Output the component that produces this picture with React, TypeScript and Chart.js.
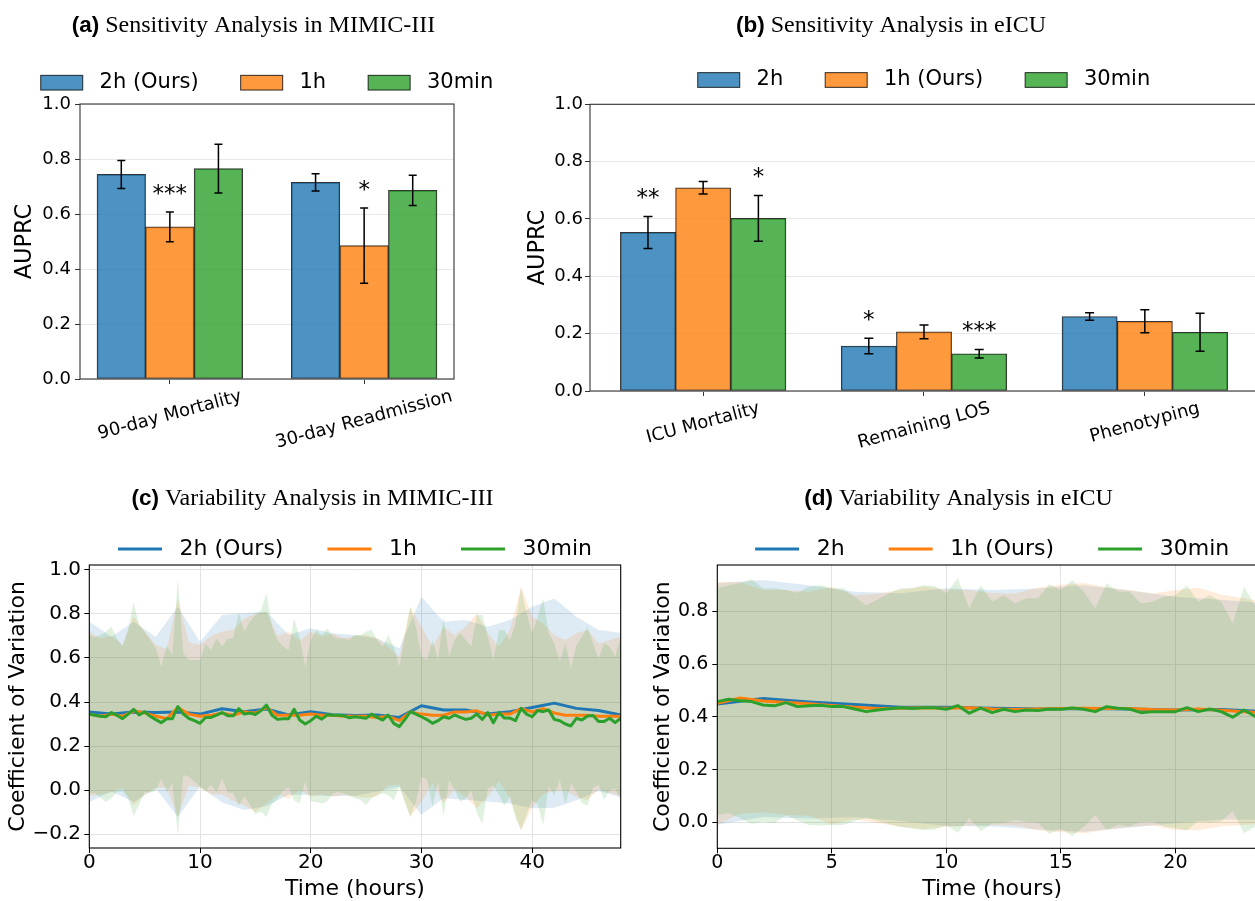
import React, { useEffect, useRef } from 'react';
import { Chart, registerables } from 'chart.js';

Chart.register(...registerables);

const SANS = '"DejaVu Sans", sans-serif';
const BLUE = '#1f77b4';
const ORANGE = '#ff7f0e';
const GREEN = '#2ca02c';

// ---------------- Panel (a) ----------------
const A_CATEGORIES = ['90-day Mortality', '30-day Readmission'];
const A_LABELS = ['2h (Ours)', '1h', '30min'];
const A_2H = [0.744, 0.715];
const A_2H_ERR = [0.051, 0.031];
const A_1H = [0.553, 0.485];
const A_1H_ERR = [0.054, 0.137];
const A_30 = [0.765, 0.686];
const A_30_ERR = [0.089, 0.055];
const A_SIG_2H = ['', ''];
const A_SIG_1H = ['***', '*'];
const A_SIG_30 = ['', ''];
const A_YTICKS = [0, 0.2, 0.4, 0.6, 0.8, 1.0];

// ---------------- Panel (b) ----------------
const B_CATEGORIES = ['ICU Mortality', 'Remaining LOS', 'Phenotyping'];
const B_LABELS = ['2h', '1h (Ours)', '30min'];
const B_2H = [0.553, 0.157, 0.26];
const B_2H_ERR = [0.056, 0.027, 0.013];
const B_1H = [0.709, 0.206, 0.243];
const B_1H_ERR = [0.022, 0.024, 0.04];
const B_30 = [0.602, 0.13, 0.205];
const B_30_ERR = [0.08, 0.015, 0.066];
const B_SIG_2H = ['**', '*', ''];
const B_SIG_1H = ['', '', ''];
const B_SIG_30 = ['*', '***', ''];
const B_YTICKS = [0, 0.2, 0.4, 0.6, 0.8, 1.0];

// ---------------- Panel (c) ----------------
const C_LABELS = ['2h (Ours)', '1h', '30min'];
const C_XTICKS = [0, 10, 20, 30, 40];
const C_YTICKS = [-0.2, 0, 0.2, 0.4, 0.6, 0.8, 1.0];
const C_MEAN_2H = [0.355, 0.345, 0.355, 0.352, 0.355, 0.345, 0.369, 0.356, 0.368, 0.341, 0.356, 0.342, 0.339,
  0.341, 0.33, 0.383, 0.364, 0.364, 0.345, 0.356, 0.375, 0.395, 0.371, 0.361, 0.341];
const C_STD_2H = [0.41, 0.352, 0.41, 0.345, 0.478, 0.329, 0.426, 0.447, 0.442, 0.363, 0.379, 0.37, 0.365,
  0.348, 0.314, 0.495, 0.401, 0.409, 0.397, 0.417, 0.458, 0.476, 0.417, 0.366, 0.374];
const C_MEAN_1H = [0.345, 0.335, 0.345, 0.335, 0.36, 0.35, 0.335, 0.325, 0.375, 0.345,
  0.335, 0.34, 0.35, 0.34, 0.355, 0.35, 0.375, 0.34, 0.34, 0.34,
  0.345, 0.34, 0.34, 0.335, 0.335, 0.335, 0.33, 0.335, 0.315, 0.355,
  0.345, 0.34, 0.34, 0.355, 0.355, 0.36, 0.34, 0.345, 0.345, 0.37,
  0.355, 0.37, 0.35, 0.34, 0.34, 0.34, 0.335, 0.335, 0.335];
const C_STD_1H = [0.375, 0.355, 0.355, 0.325, 0.43, 0.37, 0.325, 0.315, 0.495, 0.325,
  0.325, 0.36, 0.37, 0.39, 0.425, 0.45, 0.435, 0.36, 0.38, 0.34,
  0.375, 0.36, 0.37, 0.355, 0.365, 0.37, 0.36, 0.315, 0.29, 0.478,
  0.397, 0.311, 0.4, 0.35, 0.387, 0.443, 0.372, 0.306, 0.382, 0.554,
  0.433, 0.387, 0.354, 0.342, 0.372, 0.387, 0.332, 0.347, 0.362];
const C_MEAN_30 = [0.345, 0.34, 0.335, 0.333, 0.352, 0.34, 0.324, 0.345, 0.367, 0.341,
  0.356, 0.335, 0.32, 0.306, 0.324, 0.324, 0.379, 0.345, 0.325, 0.315,
  0.303, 0.33, 0.33, 0.34, 0.352, 0.338, 0.338, 0.37, 0.345, 0.35,
  0.343, 0.36, 0.386, 0.34, 0.321, 0.324, 0.324, 0.367, 0.318, 0.3,
  0.315, 0.336, 0.322, 0.342, 0.34, 0.34, 0.337, 0.328, 0.333,
  0.33, 0.326, 0.345, 0.33, 0.318, 0.341, 0.303, 0.288, 0.32, 0.356,
  0.345, 0.333, 0.32, 0.303, 0.315, 0.333, 0.326, 0.341, 0.33, 0.321,
  0.326, 0.345, 0.321, 0.352, 0.306, 0.352, 0.327, 0.327, 0.315, 0.371,
  0.345, 0.333, 0.361, 0.356, 0.364, 0.321, 0.315, 0.3, 0.291, 0.326,
  0.318, 0.336, 0.339, 0.311, 0.311, 0.326, 0.306, 0.326];
const C_STD_30 = [0.36, 0.354, 0.37, 0.387, 0.39, 0.349, 0.328, 0.382, 0.485, 0.409,
  0.364, 0.347, 0.324, 0.255, 0.335, 0.29, 0.583, 0.276, 0.266, 0.276,
  0.288, 0.337, 0.306, 0.349, 0.3, 0.351, 0.351, 0.44, 0.375, 0.415,
  0.452, 0.458, 0.508, 0.402, 0.361, 0.328, 0.312, 0.413, 0.379, 0.261,
  0.367, 0.391, 0.383, 0.393, 0.357, 0.349, 0.352, 0.354, 0.372,
  0.375, 0.394, 0.382, 0.352, 0.334, 0.364, 0.349, 0.273, 0.377, 0.477,
  0.397, 0.273, 0.271, 0.379, 0.276, 0.455, 0.28, 0.341, 0.382, 0.361,
  0.326, 0.45, 0.474, 0.345, 0.285, 0.375, 0.4, 0.355, 0.443, 0.553,
  0.458, 0.379, 0.427, 0.515, 0.348, 0.346, 0.268, 0.367, 0.262, 0.333,
  0.379, 0.406, 0.328, 0.287, 0.356, 0.326, 0.3, 0.371];

// ---------------- Panel (d) ----------------
const D_LABELS = ['2h', '1h (Ours)', '30min'];
const D_XTICKS = [0, 5, 10, 15, 20];
const D_YTICKS = [0, 0.2, 0.4, 0.6, 0.8];
const D_MEAN_2H = [0.449, 0.47, 0.457, 0.447, 0.437, 0.437, 0.433, 0.43, 0.432, 0.43, 0.426, 0.428, 0.42];
const D_STD_2H = [0.458, 0.45, 0.443, 0.428, 0.432, 0.451, 0.449, 0.457, 0.468, 0.45, 0.43, 0.417, 0.41];
const D_MEAN_1H = [0.452, 0.472, 0.46, 0.455, 0.45, 0.443, 0.437, 0.432, 0.433, 0.435, 0.433, 0.435, 0.43,
  0.428, 0.43, 0.432, 0.433, 0.432, 0.432, 0.428, 0.426, 0.43, 0.425, 0.42, 0.415];
const D_STD_1H = [0.46, 0.44, 0.422, 0.427, 0.425, 0.45, 0.425, 0.435, 0.45, 0.46, 0.45, 0.447, 0.44,
  0.44, 0.46, 0.47, 0.475, 0.46, 0.45, 0.44, 0.455, 0.46, 0.44, 0.43, 0.42];
const D_MEAN_30 = [0.458, 0.467, 0.461, 0.458, 0.445, 0.442, 0.454, 0.439, 0.442, 0.444,
  0.439, 0.439, 0.43, 0.42, 0.426, 0.431, 0.435, 0.432, 0.435, 0.435,
  0.429, 0.443, 0.414, 0.433, 0.416, 0.429, 0.42, 0.426, 0.424, 0.43,
  0.429, 0.434, 0.429, 0.42, 0.439, 0.433, 0.43, 0.416, 0.42, 0.42,
  0.42, 0.435, 0.42, 0.43, 0.42, 0.399, 0.426, 0.401, 0.41];
const D_STD_30 = [0.43, 0.433, 0.446, 0.464, 0.443, 0.446, 0.428, 0.432, 0.452, 0.456,
  0.449, 0.449, 0.425, 0.404, 0.42, 0.438, 0.453, 0.456, 0.465, 0.462,
  0.44, 0.483, 0.398, 0.467, 0.421, 0.433, 0.411, 0.424, 0.426, 0.474,
  0.453, 0.486, 0.446, 0.392, 0.468, 0.442, 0.445, 0.415, 0.417, 0.436,
  0.442, 0.465, 0.417, 0.432, 0.417, 0.356, 0.468, 0.417, 0.41];

// ---------------- helpers ----------------
const rgba = (hex: string, a: number) => {
  const n = parseInt(hex.slice(1), 16);
  return `rgba(${n >> 16},${(n >> 8) & 255},${n & 255},${a})`;
};
const COLORS = [BLUE, ORANGE, GREEN];
const BAR_OFFSETS = [-0.25, 0, 0.25];

const titlePlugin = (bold: string, rest: string, cx: number, baseline: number) => ({
  id: 'panelTitle',
  afterDraw(chart: any) {
    const ctx = chart.ctx;
    ctx.save();
    const fb = 'bold 22.5px "Liberation Sans", Arial, sans-serif';
    const fr = '24px "Liberation Serif", "Times New Roman", serif';
    ctx.font = fb;
    const w1 = ctx.measureText(bold).width;
    ctx.font = fr;
    const w2 = ctx.measureText(rest).width;
    const x = cx - (w1 + w2) / 2;
    ctx.fillStyle = 'black';
    ctx.textAlign = 'left';
    ctx.textBaseline = 'alphabetic';
    ctx.font = fb;
    ctx.fillText(bold, x, baseline);
    ctx.font = fr;
    ctx.fillText(rest, x + w1, baseline);
    ctx.restore();
  },
});

const legendPlugin = (labels: string[], fs: number, cy: number, kind: 'patch' | 'line') => ({
  id: 'mplLegend',
  afterDraw(chart: any) {
    const ctx = chart.ctx;
    const ca = chart.chartArea;
    const cx = (ca.left + ca.right) / 2;
    ctx.save();
    ctx.font = `${fs}px ${SANS}`;
    const hl = 2 * fs, hp = 0.8 * fs, cs = 2 * fs;
    const widths = labels.map((l) => ctx.measureText(l).width);
    const total = widths.reduce((a, b) => a + b, 0) + labels.length * (hl + hp) + (labels.length - 1) * cs;
    let x = cx - total / 2;
    labels.forEach((lab, i) => {
      if (kind === 'patch') {
        const h = 0.7 * fs;
        ctx.fillStyle = rgba(COLORS[i], 0.8);
        ctx.fillRect(x, cy - h / 2, hl, h);
        ctx.strokeStyle = 'rgba(0,0,0,0.8)';
        ctx.lineWidth = 1;
        ctx.strokeRect(x, cy - h / 2, hl, h);
      } else {
        ctx.strokeStyle = COLORS[i];
        ctx.lineWidth = 3;
        ctx.beginPath();
        ctx.moveTo(x, cy);
        ctx.lineTo(x + hl, cy);
        ctx.stroke();
      }
      ctx.fillStyle = 'black';
      ctx.textAlign = 'left';
      ctx.textBaseline = 'middle';
      ctx.fillText(lab, x + hl + hp, cy);
      x += hl + hp + widths[i] + cs;
    });
    ctx.restore();
  },
});

const boxPlugin = (color: string) => ({
  id: 'axesBox',
  afterDatasetsDraw(chart: any) {
    const { ctx, chartArea: ca } = chart;
    ctx.save();
    ctx.strokeStyle = color;
    ctx.lineWidth = 1.1;
    ctx.strokeRect(ca.left, ca.top, ca.right - ca.left, ca.bottom - ca.top);
    ctx.restore();
  },
});

const errorBarPlugin = (errs: number[][], sigs: string[][], cap: number) => ({
  id: 'errorBars',
  afterDatasetsDraw(chart: any) {
    const ctx = chart.ctx;
    const ys = chart.scales.y;
    ctx.save();
    chart.data.datasets.forEach((ds: any, di: number) => {
      const meta = chart.getDatasetMeta(di);
      meta.data.forEach((bar: any, i: number) => {
        const v = ds.data[i].y;
        const e = errs[di][i];
        const x = bar.x;
        const yt = ys.getPixelForValue(v + e);
        const yb = ys.getPixelForValue(v - e);
        ctx.strokeStyle = 'black';
        ctx.lineWidth = 1.5;
        ctx.beginPath();
        ctx.moveTo(x, yt); ctx.lineTo(x, yb);
        ctx.moveTo(x - cap, yt); ctx.lineTo(x + cap, yt);
        ctx.moveTo(x - cap, yb); ctx.lineTo(x + cap, yb);
        ctx.stroke();
        const s = sigs[di][i];
        if (s) {
          ctx.font = `23px ${SANS}`;
          ctx.fillStyle = 'black';
          ctx.textAlign = 'center';
          ctx.textBaseline = 'alphabetic';
          const m = ctx.measureText(s);
          const bottom = yt - 17;
          ctx.fillText(s, x, bottom - m.actualBoundingBoxDescent);
        }
      });
    });
    ctx.restore();
  },
});

const categoryLabelPlugin = (labels: string[], fs: number, pad: number) => ({
  id: 'catLabels',
  afterDraw(chart: any) {
    const ctx = chart.ctx;
    const xs = chart.scales.x;
    const base = chart.chartArea.bottom + 5 + pad;
    const ang = (15 * Math.PI) / 180;
    ctx.save();
    ctx.font = `${fs}px ${SANS}`;
    ctx.fillStyle = 'black';
    ctx.textAlign = 'center';
    ctx.textBaseline = 'middle';
    labels.forEach((lab, i) => {
      const w = ctx.measureText(lab).width;
      const cy = base + (w * Math.sin(ang) + fs * Math.cos(ang)) / 2;
      const cx = xs.getPixelForValue(i);
      ctx.save();
      ctx.translate(cx, cy);
      ctx.rotate(-ang);
      ctx.fillText(lab, 0, 0);
      ctx.restore();
    });
    ctx.restore();
  },
});

type BarSpec = {
  categories: string[];
  labels: string[];
  values: number[][];
  errs: number[][];
  sigs: string[][];
  yticks: number[];
  xMin: number; xMax: number;
  padTop: number; padRight: number;
  yWidth: number; xHeight: number;
  tickPad: number; yTitlePad: number;
  title: [string, string, number, number];
  legendCy: number; cap: number;
};

const buildBar = (p: BarSpec) => () => ({
  type: 'bar',
  data: {
    datasets: p.values.map((vals, k) => ({
      label: p.labels[k],
      data: vals.map((v, i) => ({ x: i + BAR_OFFSETS[k], y: v })),
      backgroundColor: rgba(COLORS[k], 0.8),
      borderColor: 'rgba(0,0,0,0.8)',
      borderWidth: 1,
      borderSkipped: false,
      grouped: false,
      categoryPercentage: 1,
      barPercentage: 1,
    })),
  },
  options: {
    responsive: false,
    animation: false,
    events: [],
    layout: { padding: { top: p.padTop, left: 0, right: p.padRight, bottom: 0 } },
    plugins: { legend: { display: false }, tooltip: { enabled: false }, title: { display: false } },
    scales: {
      x: {
        type: 'linear', min: p.xMin, max: p.xMax, offset: false,
        afterBuildTicks: (s: any) => { s.ticks = p.categories.map((_, i) => ({ value: i })); },
        afterFit: (s: any) => { s.height = p.xHeight; },
        ticks: { display: false },
        grid: { offset: false, drawOnChartArea: false, drawTicks: true, tickLength: 5, tickColor: '#333', tickWidth: 1 },
        border: { display: false },
      },
      y: {
        type: 'linear', min: 0, max: 1,
        afterBuildTicks: (s: any) => { s.ticks = p.yticks.map((v) => ({ value: v })); },
        afterFit: (s: any) => { s.width = p.yWidth; },
        ticks: { font: { family: SANS, size: 18, lineHeight: 1 }, color: 'black', padding: p.tickPad,
          callback: (v: number) => v.toFixed(1) },
        grid: { color: '#e8e8e8', lineWidth: 1, tickColor: '#333', tickLength: 5, tickWidth: 1 },
        border: { display: false },
        title: { display: true, text: 'AUPRC', color: 'black', font: { family: SANS, size: 22.5 },
          padding: { top: p.yTitlePad, bottom: 0 } },
      },
    },
  },
  plugins: [
    boxPlugin('#333'),
    errorBarPlugin(p.errs, p.sigs, p.cap),
    categoryLabelPlugin(p.categories, 18, 3.5),
    legendPlugin(p.labels, 21, p.legendCy, 'patch'),
    titlePlugin(p.title[0], p.title[1], p.title[2], p.title[3]),
  ],
});

type LineSpec = {
  labels: string[];
  means: number[][];
  stds: number[][];
  steps: number[];
  xMax: number; yMin: number; yMax: number;
  xticks: number[]; yticks: number[];
  padRight: number; yWidth: number; xHeight: number;
  tickFont: number; tickPad: number; yTitlePad: number; xTitlePad: number;
  title: [string, string, number, number];
};

const fmtSigned = (v: number) => (v < 0 ? '\u2212' : '') + Math.abs(v).toFixed(1);

const buildLine = (p: LineSpec) => () => {
  const bands: any[] = [];
  const lines: any[] = [];
  p.means.forEach((mean, k) => {
    const t = mean.map((_, i) => i * p.steps[k]);
    bands.push({
      data: mean.map((m, i) => ({ x: t[i], y: m + p.stds[k][i] })),
      borderColor: 'rgba(0,0,0,0)', borderWidth: 0, pointRadius: 0,
      fill: '+1', backgroundColor: rgba(COLORS[k], 0.15), order: 10 - k,
    });
    bands.push({
      data: mean.map((m, i) => ({ x: t[i], y: m - p.stds[k][i] })),
      borderColor: 'rgba(0,0,0,0)', borderWidth: 0, pointRadius: 0,
      fill: false, order: 10 - k,
    });
    lines.push({
      label: p.labels[k],
      data: mean.map((m, i) => ({ x: t[i], y: m })),
      borderColor: COLORS[k], borderWidth: 3, pointRadius: 0, fill: false,
      borderJoinStyle: 'round', order: 2 - k,
    });
  });
  return {
    type: 'line',
    data: { datasets: [...bands, ...lines] },
    options: {
      responsive: false,
      animation: false,
      events: [],
      layout: { padding: { top: 95, left: 0, right: p.padRight, bottom: 0 } },
      plugins: { legend: { display: false }, tooltip: { enabled: false }, title: { display: false } },
      scales: {
        x: {
          type: 'linear', min: 0, max: p.xMax,
          afterBuildTicks: (s: any) => { s.ticks = p.xticks.map((v) => ({ value: v })); },
          afterFit: (s: any) => { s.height = p.xHeight; },
          ticks: { font: { family: SANS, size: p.tickFont, lineHeight: 1 }, color: 'black', padding: 0,
            maxRotation: 0, callback: (v: number) => String(v) },
          grid: { color: '#e2e2e2', lineWidth: 1, tickColor: 'black', tickLength: 5, tickWidth: 1 },
          border: { display: false },
          title: { display: true, text: 'Time (hours)', color: 'black', font: { family: SANS, size: 22 },
            padding: { top: 0, bottom: p.xTitlePad } },
        },
        y: {
          type: 'linear', min: p.yMin, max: p.yMax,
          afterBuildTicks: (s: any) => { s.ticks = p.yticks.map((v) => ({ value: v })); },
          afterFit: (s: any) => { s.width = p.yWidth; },
          ticks: { font: { family: SANS, size: p.tickFont, lineHeight: 1 }, color: 'black', padding: p.tickPad,
            callback: (v: number) => fmtSigned(v) },
          grid: { color: '#e2e2e2', lineWidth: 1, tickColor: 'black', tickLength: 5, tickWidth: 1 },
          border: { display: false },
          title: { display: true, text: 'Coefficient of Variation', color: 'black', font: { family: SANS, size: 22 },
            padding: { top: p.yTitlePad, bottom: 0 } },
        },
      },
    },
    plugins: [
      boxPlugin('black'),
      legendPlugin(p.labels, 22, 79, 'line'),
      titlePlugin(p.title[0], p.title[1], p.title[2], p.title[3]),
    ],
  };
};

// ---------------- React ----------------
type PanelProps = { left: number; top: number; width: number; height: number; build: () => any };

function Panel({ left, top, width, height, build }: PanelProps) {
  const ref = useRef<HTMLCanvasElement>(null);
  useEffect(() => {
    const chart = new Chart(ref.current as HTMLCanvasElement, build());
    return () => chart.destroy();
  }, []);
  return (
    <canvas ref={ref} width={width} height={height}
      style={{ position: 'absolute', left, top, width, height }} />
  );
}

export default function App() {
  const buildA = buildBar({
    categories: A_CATEGORIES, labels: A_LABELS,
    values: [A_2H, A_1H, A_30], errs: [A_2H_ERR, A_1H_ERR, A_30_ERR], sigs: [A_SIG_2H, A_SIG_1H, A_SIG_30],
    yticks: A_YTICKS, xMin: -0.4625, xMax: 1.4625,
    padTop: 104, padRight: 66, yWidth: 80, xHeight: 81, tickPad: 4, yTitlePad: 12,
    title: ['(a)', ' Sensitivity Analysis in MIMIC-III', 253.5, 32], legendCy: 82.7, cap: 4,
  });
  const buildB = buildBar({
    categories: B_CATEGORIES, labels: B_LABELS,
    values: [B_2H, B_1H, B_30], errs: [B_2H_ERR, B_1H_ERR, B_30_ERR], sigs: [B_SIG_2H, B_SIG_1H, B_SIG_30],
    yticks: B_YTICKS, xMin: -0.5125, xMax: 2.5125,
    padTop: 104.3, padRight: 22, yWidth: 70, xHeight: 79, tickPad: 2, yTitlePad: 4.4,
    title: ['(b)', ' Sensitivity Analysis in eICU', 371, 32], legendCy: 80, cap: 4.5,
  });
  const buildC = buildLine({
    labels: C_LABELS, means: [C_MEAN_2H, C_MEAN_1H, C_MEAN_30], stds: [C_STD_2H, C_STD_1H, C_STD_30],
    steps: [2, 1, 0.5], xMax: 48, yMin: -0.2636, yMax: 1.0227, xticks: C_XTICKS, yticks: C_YTICKS,
    padRight: 9.3, yWidth: 89.3, xHeight: 62, tickFont: 20, tickPad: 3.3, yTitlePad: 5.3, xTitlePad: 7.8,
    title: ['(c)', ' Variability Analysis in MIMIC-III', 312.5, 35],
  });
  const buildD = buildLine({
    labels: D_LABELS, means: [D_MEAN_2H, D_MEAN_1H, D_MEAN_30], stds: [D_STD_2H, D_STD_1H, D_STD_30],
    steps: [2, 1, 0.5], xMax: 24, yMin: -0.0987, yMax: 0.9765, xticks: D_XTICKS, yticks: D_YTICKS,
    padRight: 23, yWidth: 87.3, xHeight: 61.7, tickFont: 19, tickPad: 4, yTitlePad: 20.3, xTitlePad: 7.8,
    title: ['(d)', ' Variability Analysis in eICU', 328.5, 35],
  });
  return (
    <div style={{ position: 'fixed', left: 0, top: 0, width: 1255, height: 901, overflow: 'hidden', background: 'white' }}>
      <Panel left={0} top={0} width={520} height={460} build={buildA} />
      <Panel left={520} top={0} width={760} height={470} build={buildB} />
      <Panel left={0} top={470} width={630} height={440} build={buildC} />
      <Panel left={630} top={470} width={660} height={440} build={buildD} />
    </div>
  );
}
